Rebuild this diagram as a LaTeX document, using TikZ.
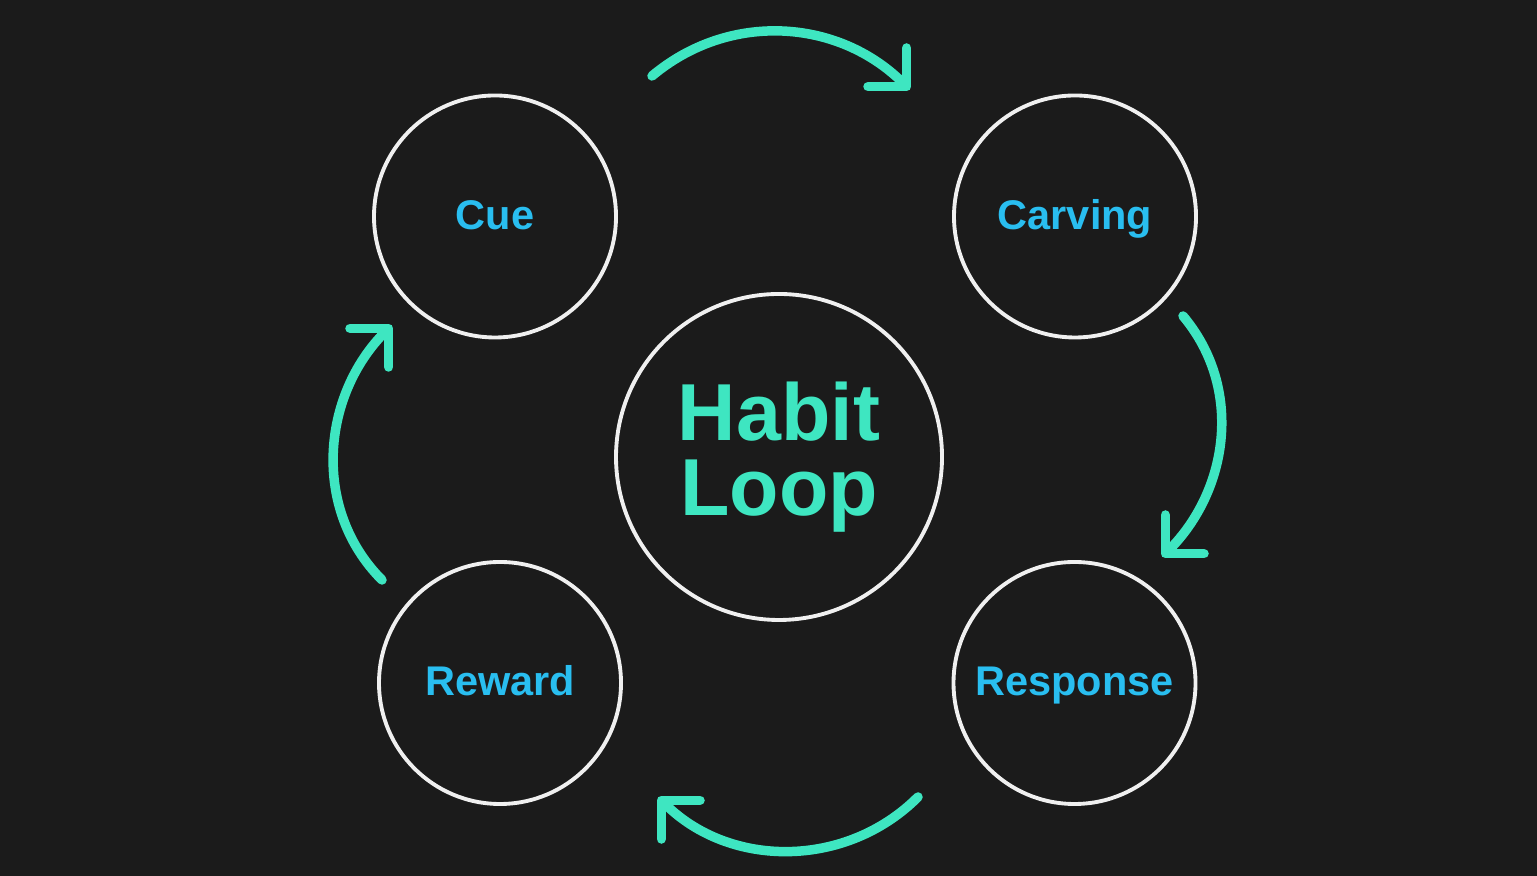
\documentclass[tikz,border=0pt]{standalone}
\usepackage{fontspec}
\setmainfont{Liberation Sans}
\usepackage{tikz}
\usepackage{xcolor}
\usetikzlibrary{shapes, arrows.meta, positioning}

\definecolor{bgdark}{HTML}{1B1B1B}
\definecolor{loopteal}{HTML}{3EE6C1}
\definecolor{stageblue}{HTML}{29BEF0}

\begin{document}
\begin{tikzpicture}[
        stage/.style={circle, draw=white!94!black, line width=1.1pt, minimum size=2.42cm, inner sep=0pt,
          text height=0.72em, text depth=0pt,
          text=stageblue, font=\fontsize{11.8}{13}\selectfont\bfseries},
        hub/.style={circle, draw=white!94!black, line width=1.1pt, minimum size=3.26cm, inner sep=0pt,
          text=loopteal, align=center, font=\fontsize{23}{21.5}\selectfont\bfseries},
        loopar/.style={draw=loopteal, line width=2.7pt, line cap=round,
          -{Straight Barb[angle=90:11pt, round]}}
      ]
      \fill[bgdark] (0,0) rectangle (15.37,8.76);

      \node (loop) [hub] at (7.79,4.19) {Habit\\Loop};
      \node (cue) [stage] at (4.95,6.595) {Cue};
      \node (carving) [stage] at (10.75,6.595) {Carving};
      \node (reward) [stage] at (5.00,1.93) {Reward};
      \node (response) [stage] at (10.745,1.93) {Response};

      % ends of the loop arrows
      \coordinate (t1) at (6.52,8.00);
      \coordinate (t2) at (9.10,7.86);
      \coordinate (r1) at (11.83,5.60);
      \coordinate (r2) at (11.62,3.19);
      \coordinate (b1) at (9.18,0.79);
      \coordinate (b2) at (6.58,0.79);
      \coordinate (l1) at (3.82,2.96);
      \coordinate (l2) at (3.92,5.51);

      \draw[loopar] (t1) to[out=40, in=135] (t2);
      \draw[loopar] (r1) to[out=-50, in=45] (r2);
      \draw[loopar] (b1) to[out=-135, in=-45] (b2);
      \draw[loopar] (l1) to[out=135, in=-135] (l2);
    \end{tikzpicture}
\end{document}
